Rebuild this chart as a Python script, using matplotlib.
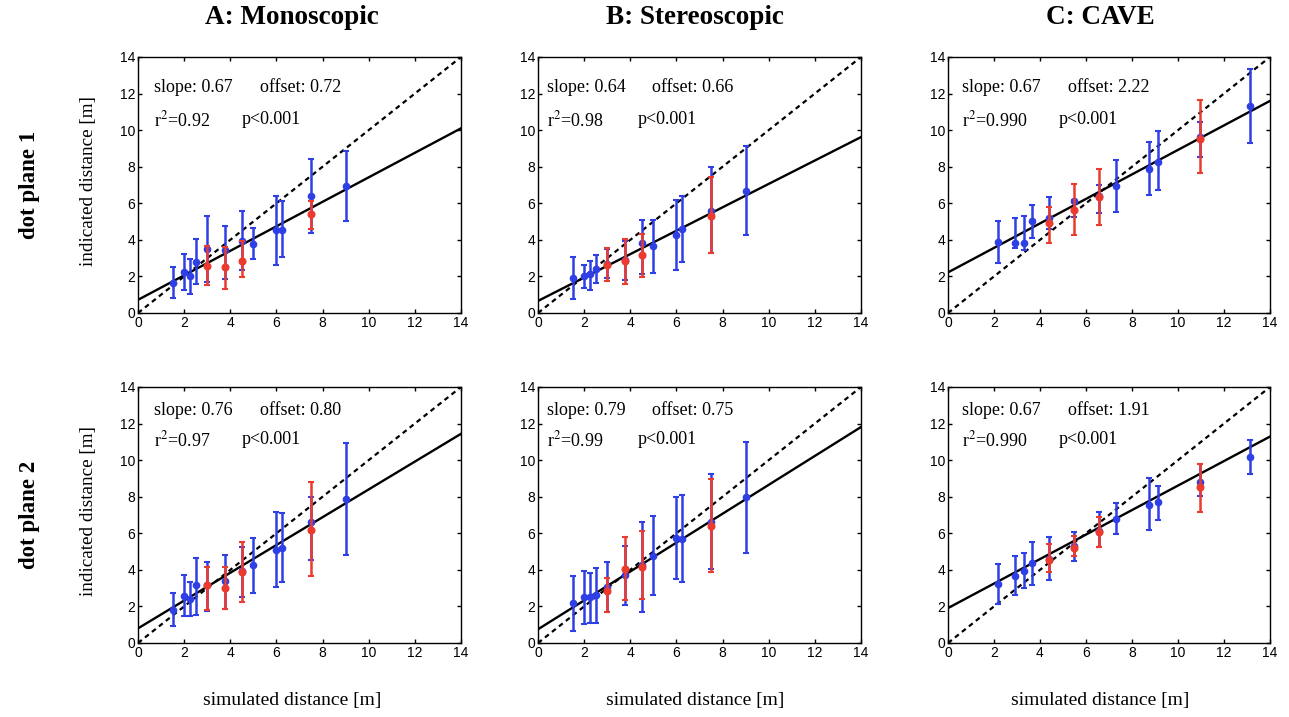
import numpy as np
import matplotlib
matplotlib.use('Agg')
import matplotlib.pyplot as plt

plt.rcParams['font.family'] = ['Liberation Serif', 'DejaVu Serif']
plt.rcParams['mathtext.fontset'] = 'stix'

# simulated distances (m)
sim_blue = [1.5, 2.0, 2.25, 2.5, 3.0, 3.75, 4.5, 5.0, 6.0, 6.25, 7.5, 9.0]
sim_red = [3.0, 3.75, 4.5, 7.5]
cave_blue = [2.19, 2.92, 3.29, 3.65, 4.38, 5.48, 6.57, 7.30, 8.76, 9.13, 10.95, 13.14]
cave_red = [4.38, 5.48, 6.57, 10.95]

# dot plane 1
mono1_b = [1.64, 2.24, 2.02, 2.78, 3.51, 3.45, 3.95, 3.76, 4.55, 4.56, 6.38, 6.96]
mono1_blo = [0.84, 1.24, 1.05, 1.56, 1.69, 1.87, 2.33, 2.93, 2.65, 3.05, 4.36, 5.02]
mono1_bhi = [2.51, 3.24, 2.96, 4.02, 5.29, 4.78, 5.60, 4.64, 6.42, 6.11, 8.40, 8.87]
mono1_r = [2.56, 2.51, 2.87, 5.44]
mono1_rlo = [1.51, 1.33, 1.96, 4.60]
mono1_rhi = [3.69, 3.60, 3.96, 6.15]

stereo1_b = [1.91, 2.05, 2.11, 2.42, 2.70, 2.90, 3.82, 3.65, 4.24, 4.60, 5.60, 6.69]
stereo1_blo = [0.78, 1.36, 1.24, 1.65, 1.90, 1.80, 2.15, 2.20, 2.33, 2.78, 3.27, 4.24]
stereo1_bhi = [3.05, 2.64, 2.84, 3.18, 3.50, 3.95, 5.09, 5.11, 6.18, 6.42, 8.00, 9.15]
stereo1_r = [2.65, 2.84, 3.15, 5.33]
stereo1_rlo = [1.73, 1.60, 1.96, 3.27]
stereo1_rhi = [3.56, 4.05, 4.33, 7.42]

cave1_b = [3.87, 3.82, 3.82, 5.02, 5.20, 6.11, 6.40, 6.96, 7.87, 8.27, 9.60, 11.33]
cave1_blo = [2.73, 3.55, 3.45, 4.11, 4.60, 5.24, 5.45, 5.55, 6.45, 6.73, 8.51, 9.27]
cave1_bhi = [5.02, 5.20, 5.29, 5.93, 6.33, 6.20, 7.00, 8.38, 9.33, 9.96, 10.42, 13.36]
cave1_r = [4.91, 5.64, 6.33, 9.51]
cave1_rlo = [3.84, 4.24, 4.82, 7.64]
cave1_rhi = [5.78, 7.05, 7.87, 11.64]

# dot plane 2
mono2_b = [1.82, 2.56, 2.42, 3.15, 3.15, 3.38, 3.96, 4.24, 5.11, 5.20, 6.60, 7.87]
mono2_blo = [0.93, 1.45, 1.45, 1.55, 1.73, 1.84, 2.51, 2.73, 3.05, 3.33, 4.55, 4.82]
mono2_bhi = [2.73, 3.73, 3.36, 4.64, 4.42, 4.82, 5.24, 5.75, 7.15, 7.11, 7.96, 10.96]
mono2_r = [3.15, 3.02, 3.87, 6.20]
mono2_rlo = [1.78, 1.84, 2.24, 3.64]
mono2_rhi = [4.18, 4.18, 5.51, 8.78]

stereo2_b = [2.18, 2.49, 2.53, 2.60, 3.05, 3.70, 4.24, 4.75, 5.73, 5.69, 6.64, 7.96]
stereo2_blo = [0.65, 1.05, 1.11, 1.09, 1.69, 2.10, 1.69, 2.60, 3.51, 3.33, 4.05, 4.93]
stereo2_bhi = [3.69, 3.96, 3.82, 4.09, 4.45, 5.30, 6.64, 6.96, 7.96, 8.09, 9.24, 11.00]
stereo2_r = [2.84, 4.04, 4.18, 6.42]
stereo2_rlo = [1.69, 2.33, 2.42, 3.87]
stereo2_rhi = [3.56, 5.82, 6.11, 8.96]

cave2_b = [3.24, 3.65, 3.96, 4.38, 4.60, 5.30, 6.10, 6.78, 7.55, 7.69, 8.80, 10.15]
cave2_blo = [2.11, 2.64, 3.02, 3.15, 3.42, 4.47, 5.24, 5.96, 6.20, 6.73, 8.05, 9.24]
cave2_bhi = [4.33, 4.75, 4.93, 5.55, 5.78, 6.05, 7.15, 7.65, 9.00, 8.60, 9.78, 11.09]
cave2_r = [4.56, 5.18, 6.05, 8.51]
cave2_rlo = [3.87, 4.75, 5.24, 7.18]
cave2_rhi = [5.42, 5.87, 6.87, 9.78]

# regression stats
slopes = [[0.67, 0.64, 0.67], [0.76, 0.79, 0.67]]
offsets = [[0.72, 0.66, 2.22], [0.80, 0.75, 1.91]]
r2s = [['0.92', '0.98', '0.990'], ['0.97', '0.99', '0.990']]

col_titles = ['A: Monoscopic', 'B: Stereoscopic', 'C: CAVE']
row_titles = ['dot plane 1', 'dot plane 2']

panels = [
    [(sim_blue, mono1_b, mono1_blo, mono1_bhi, sim_red, mono1_r, mono1_rlo, mono1_rhi),
     (sim_blue, stereo1_b, stereo1_blo, stereo1_bhi, sim_red, stereo1_r, stereo1_rlo, stereo1_rhi),
     (cave_blue, cave1_b, cave1_blo, cave1_bhi, cave_red, cave1_r, cave1_rlo, cave1_rhi)],
    [(sim_blue, mono2_b, mono2_blo, mono2_bhi, sim_red, mono2_r, mono2_rlo, mono2_rhi),
     (sim_blue, stereo2_b, stereo2_blo, stereo2_bhi, sim_red, stereo2_r, stereo2_rlo, stereo2_rhi),
     (cave_blue, cave2_b, cave2_blo, cave2_bhi, cave_red, cave2_r, cave2_rlo, cave2_rhi)],
]

W, H = 1289, 717
fig = plt.figure(figsize=(W / 100, H / 100), dpi=100)

lefts = [138, 538, 948]
widths = [323, 323, 322]
tops = [57, 387]
ah = 256
blue = '#2f3fe6'
red = '#ea3b2e'
text_x = [0.048, 0.027, 0.042]
off_x = [0.378, 0.353, 0.372]
p_x = [0.322, 0.31, 0.345]
text_y = [(0.879, 0.754), (0.910, 0.793)]

for r in range(2):
    for c in range(3):
        ax = fig.add_axes([lefts[c] / W, 1 - (tops[r] + ah) / H, widths[c] / W, ah / H])
        bx, by, blo, bhi, rx, ry, rlo, rhi = panels[r][c]
        by, blo, bhi = np.array(by), np.array(blo), np.array(bhi)
        ry, rlo, rhi = np.array(ry), np.array(rlo), np.array(rhi)
        xs = np.array([0, 14])
        ax.plot(xs, xs, color='black', ls=(0, (2.2, 1.8)), lw=1.6, zorder=2)
        ax.plot(xs, slopes[r][c] * xs + offsets[r][c], color='black', lw=1.7, zorder=2)
        ax.errorbar(bx, by, yerr=[by - blo, bhi - by], fmt='o', color=blue, ms=4.5,
                    elinewidth=1.8, capsize=2, capthick=1.5, zorder=3)
        ax.errorbar(rx, ry, yerr=[ry - rlo, rhi - ry], fmt='o', color=red, ms=4.8,
                    elinewidth=1.8, capsize=2, capthick=1.5, zorder=4)
        ax.set_xlim(0, 14)
        ax.set_ylim(0, 14)
        ax.set_xticks(range(0, 15, 2))
        ax.set_yticks(range(0, 15, 2))
        ax.tick_params(direction='in', top=True, right=True, length=3, width=1.0,
                       labelsize=10, pad=2)
        for lab in ax.get_xticklabels() + ax.get_yticklabels():
            lab.set_family(['Liberation Sans', 'DejaVu Sans'])
        for sp in ax.spines.values():
            sp.set_linewidth(1.0)
        ty1, ty2 = text_y[r]
        ax.text(text_x[c], ty1, 'slope: %.2f' % slopes[r][c], transform=ax.transAxes,
                fontsize=13, va='center')
        ax.text(off_x[c], ty1, 'offset: %.2f' % offsets[r][c], transform=ax.transAxes,
                fontsize=13, va='center')
        ax.text(text_x[c], ty2, 'r$^2$=' + r2s[r][c], transform=ax.transAxes,
                fontsize=13, va='center')
        ax.text(p_x[c], ty2, 'p<0.001', transform=ax.transAxes,
                fontsize=13, va='center')

col_centers = [292, 695, 1100]
for c in range(3):
    fig.text(col_centers[c] / W, 1 - 17 / H, col_titles[c], ha='center', va='center',
             fontsize=19.5, fontweight='bold')
    fig.text(col_centers[c] / W, 1 - 700 / H, 'simulated distance [m]', ha='center',
             va='center', fontsize=14)

for r, yc in enumerate([185, 515]):
    fig.text(30 / W, 1 - yc / H, row_titles[r], rotation=90, ha='center', va='center',
             fontsize=16.5, fontweight='bold')
    fig.text(88 / W, 1 - (yc - 4) / H, 'indicated distance [m]', rotation=90, ha='center',
             va='center', fontsize=13.8)

fig.savefig('out.png', dpi=100)
